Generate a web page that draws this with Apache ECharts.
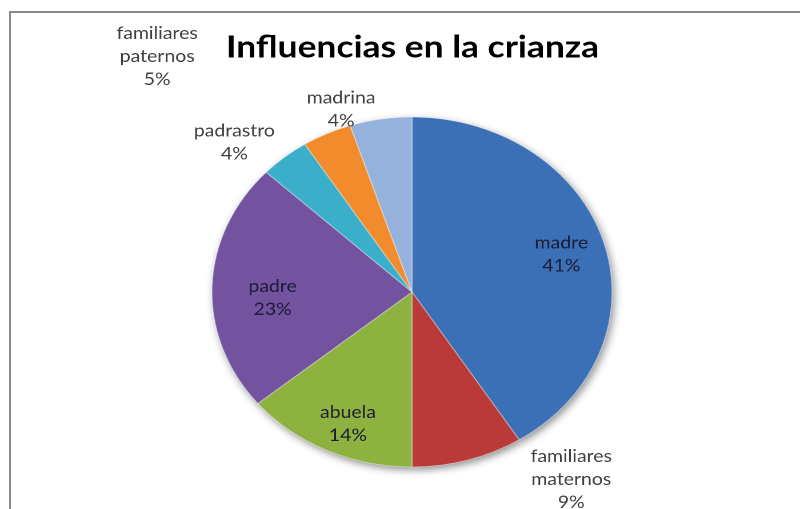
<!DOCTYPE html>
<html>
<head>
<meta charset="utf-8">
<script src="https://cdn.jsdelivr.net/npm/echarts@6/dist/echarts.min.js"></script>
<style>
  html, body { margin: 0; padding: 0; background: #fff; overflow: hidden; }
  #frame {
    position: absolute; left: 9px; top: 11px;
    width: 900px; height: 600px;
    border: 2px solid #8a8a8a;
  }
  /* the original picture is stretched sideways, so the chart is too */
  #main {
    position: absolute; left: 0; top: 0;
    width: 700px; height: 509px;
    transform: scaleX(1.142857); transform-origin: 0 0;
  }
</style>
</head>
<body>
<div id="frame"></div>
<div id="main"></div>
<script>
const categories = ['madre', 'familiares maternos', 'abuela', 'padre', 'padrastro', 'madrina', 'familiares paternos'];
const values = [41, 9, 14, 23, 4, 4, 5];
const colors = ['#3b6fb6', '#b93a38', '#8db23f', '#7352a0', '#3bafca', '#f28b2c', '#95b2dc'];
const labelInside = [true, false, true, true, false, false, false];

const chart = echarts.init(document.getElementById('main'), null, { devicePixelRatio: 2 });

const center = [360.5, 292];
const R = 175;

// nudges from the inner label ring (outside labels go well out)
const labelShift = {
  0: [2, 0],
  1: [102, 59],
  2: [1, 11],
  3: [12, 10],
  4: [-70, -46],
  5: [-5, -61],
  6: [-202, -103]
};

const fontFamily = 'Lato, "Open Sans", sans-serif';

const pieData = categories.map(function (name, i) {
  return {
    name: name,
    value: values[i],
    itemStyle: { color: colors[i] }
  };
});

const labelData = categories.map(function (name, i) {
  return {
    name: name,
    value: values[i],
    label: { color: labelInside[i] ? '#1d1d35' : '#404040' }
  };
});

const option = {
  animation: false,
  title: {
    text: 'Influencias en la crianza',
    left: 356,
    top: 27,
    textAlign: 'center',
    textStyle: {
      fontFamily: fontFamily,
      fontWeight: 'bold',
      fontSize: 31,
      color: '#000'
    }
  },
  series: [
    {
      // shadow under the whole pie
      type: 'pie',
      silent: true,
      center: center,
      radius: R,
      startAngle: 90,
      clockwise: true,
      label: { show: false },
      labelLine: { show: false },
      itemStyle: {
        color: '#fff',
        shadowBlur: 8,
        shadowOffsetX: 2,
        shadowOffsetY: 3,
        shadowColor: 'rgba(0,0,0,0.45)'
      },
      data: values.map(function (v, i) { return { name: categories[i], value: v }; })
    },
    {
      type: 'pie',
      center: center,
      radius: R,
      startAngle: 90,
      clockwise: true,
      label: { show: false },
      labelLine: { show: false },
      itemStyle: {
        borderColor: 'rgba(255,255,255,0.35)',
        borderWidth: 1
      },
      data: pieData
    },
    {
      // transparent ring, only here to place the labels
      type: 'pie',
      silent: true,
      center: center,
      radius: [87, R],
      startAngle: 90,
      clockwise: true,
      itemStyle: { color: 'rgba(0,0,0,0)' },
      label: {
        show: true,
        position: 'inside',
        rotate: 0,
        fontFamily: fontFamily,
        fontSize: 17,
        lineHeight: 23,
        align: 'center',
        formatter: function (p) {
          return p.name.replace(' ', '\n') + '\n' + Math.round(p.percent) + '%';
        }
      },
      labelLine: { show: false },
      labelLayout: function (p) {
        const s = labelShift[p.dataIndex];
        return s ? { dx: s[0], dy: s[1] } : {};
      },
      data: labelData
    }
  ]
};

chart.setOption(option);
</script>
</body>
</html>
